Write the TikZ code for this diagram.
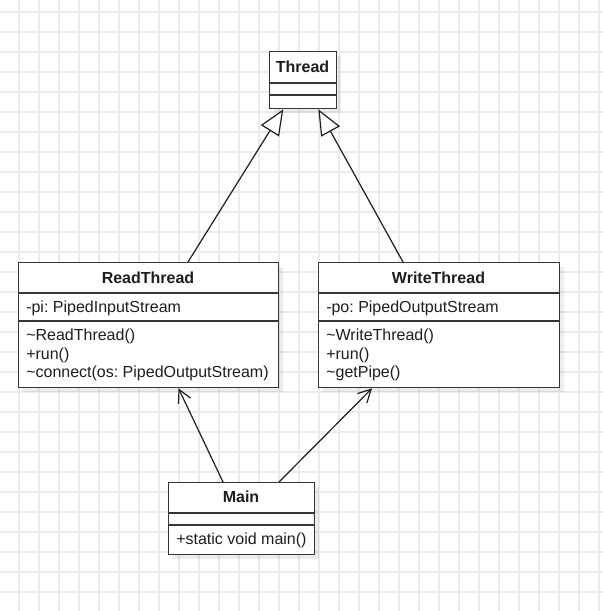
\documentclass[tikz,border=0pt]{standalone}
\usepackage{fontspec}
\setmainfont{Liberation Sans}
\frenchspacing
\usetikzlibrary{calc,arrows.meta,shadows}
\definecolor{gridline}{HTML}{EBEBEB}
\definecolor{stroke}{HTML}{363636}
\definecolor{ink}{HTML}{1E1E1E}
\begin{document}
\begin{tikzpicture}[x=0.75pt,y=-0.75pt,
  classbox/.style={rectangle, draw=stroke, line width=1pt, fill=white,
    inner sep=0pt, anchor=north west,
    drop shadow={shadow xshift=3pt, shadow yshift=-3pt, opacity=0.07, fill=black}},
  divider/.style={draw=stroke, line width=1pt},
  classname/.style={font=\bfseries\fontsize{12}{14}\selectfont, text=ink, inner sep=0pt, anchor=base},
  member/.style={font=\fontsize{12}{14}\selectfont, text=ink, inner sep=0pt, anchor=base west},
  inherit/.style={draw=ink, line width=0.9pt, -{Triangle[open, length=19pt, width=16pt, fill=white]}},
  uses/.style={draw=ink, line width=0.9pt, -{Straight Barb[length=9.5pt, width=10pt]}}]

  % canvas and grid
  \useasboundingbox (0,0) rectangle (603,611);
  \fill[white] (0,0) rectangle (603,611);
  \foreach \gx in {19,39,...,599} \draw[gridline, line width=1pt] (\gx,0) -- (\gx,611);
  \foreach \gy in {12,32,...,602} \draw[gridline, line width=1pt] (0,\gy) -- (603,\gy);

  % class boxes
  \node[classbox, minimum width=50.25pt, minimum height=42.75pt] (thread) at (269,51) {};
  \node[classbox, minimum width=195pt, minimum height=93.75pt] (read) at (18,262) {};
  \node[classbox, minimum width=180.75pt, minimum height=93.75pt] (write) at (318,262) {};
  \node[classbox, minimum width=109.5pt, minimum height=54pt] (main) at (168,482) {};

  % compartments
  \draw[divider] ($(thread.north west)+(0,32)$) -- ($(thread.north east)+(0,32)$);
  \draw[divider] ($(thread.north west)+(0,44)$) -- ($(thread.north east)+(0,44)$);
  \draw[divider] ($(read.north west)+(0,31)$) -- ($(read.north east)+(0,31)$);
  \draw[divider] ($(read.north west)+(0,59)$) -- ($(read.north east)+(0,59)$);
  \draw[divider] ($(write.north west)+(0,31)$) -- ($(write.north east)+(0,31)$);
  \draw[divider] ($(write.north west)+(0,59)$) -- ($(write.north east)+(0,59)$);
  \draw[divider] ($(main.north west)+(0,31)$) -- ($(main.north east)+(0,31)$);
  \draw[divider] ($(main.north west)+(0,43)$) -- ($(main.north east)+(0,43)$);

  % class names
  \node[classname] (threadname) at (302.5,72.5) {Thread};
  \node[classname] (readname) at (148,283.3) {ReadThread};
  \node[classname] (writename) at (438.5,283.3) {WriteThread};
  \node[classname] (mainname) at (241,502.5) {Main};

  % members of ReadThread
  \node[member] (readattr) at (26,312) {-pi: PipedInputStream};
  \node[member] (readctor) at (26,340.7) {\textasciitilde ReadThread()};
  \node[member] (readrun) at (26,359.2) {+run()};
  \node[member] (readconnect) at (26,377.7) {\textasciitilde connect(os: PipedOutputStream)};

  % members of WriteThread
  \node[member] (writeattr) at (326,312) {-po: PipedOutputStream};
  \node[member] (writector) at (326,340.7) {\textasciitilde WriteThread()};
  \node[member] (writerun) at (326,359.2) {+run()};
  \node[member] (writepipe) at (326,377.7) {\textasciitilde getPipe()};

  % members of Main
  \node[member] (mainops) at (176,544) {+static void main()};

  % generalisation
  \draw[inherit] ($(read.north west)+(170,0)$) -- ($(thread.south west)+(14.3,0)$);
  \draw[inherit] ($(write.north west)+(85,0)$) -- ($(thread.south west)+(49.3,0)$);

  % dependencies
  \draw[uses] ($(main.north west)+(55,0)$) -- ($(read.south west)+(160.5,0)$);
  \draw[uses] ($(main.north west)+(111,0)$) -- ($(write.south west)+(54,0)$);
\end{tikzpicture}
\end{document}
